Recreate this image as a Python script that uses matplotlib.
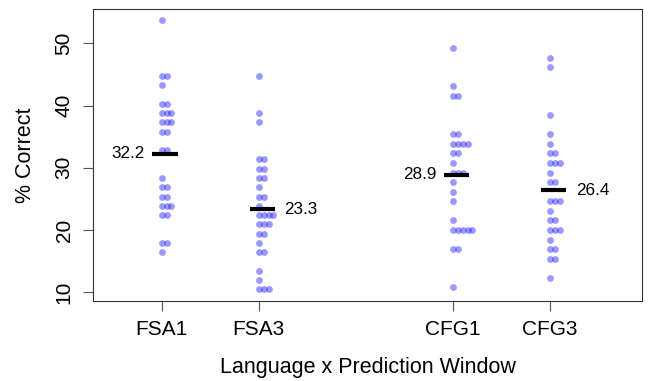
import numpy as np
import matplotlib
matplotlib.use("Agg")
import matplotlib.pyplot as plt

plt.rcParams['font.family'] = ['Liberation Sans', 'DejaVu Sans']

# % correct per participant
fsa1 = [53.73, 44.78, 44.78, 43.28, 40.30, 40.30, 38.81, 38.81, 38.81,
        37.31, 37.31, 37.31, 35.82, 35.82, 32.84, 32.84, 28.36, 26.87, 26.87,
        25.37, 25.37, 23.88, 23.88, 23.88, 22.39, 22.39, 17.91, 17.91, 16.42]
fsa3 = [44.78, 38.81, 37.31, 31.34, 31.34, 29.85, 29.85, 28.36, 28.36,
        26.87, 25.37, 25.37, 23.88, 22.39, 22.39, 22.39, 22.39, 20.90, 20.90,
        20.90, 19.40, 19.40, 17.91, 16.42, 16.42, 13.43, 11.94, 10.45, 10.45,
        10.45]
cfg1 = [49.23, 43.08, 41.54, 41.54, 35.38, 35.38, 33.85, 33.85, 33.85,
        33.85, 32.31, 32.31, 30.77, 29.23, 29.23, 29.23, 27.69, 26.15, 24.62,
        21.54, 20.00, 20.00, 20.00, 20.00, 20.00, 16.92, 16.92, 10.77]
cfg3 = [47.69, 46.15, 38.46, 35.38, 33.85, 32.31, 32.31, 30.77, 30.77,
        30.77, 29.23, 27.69, 27.69, 24.62, 24.62, 24.62, 23.08, 21.54, 21.54,
        20.00, 20.00, 20.00, 18.46, 16.92, 16.92, 15.38, 15.38, 12.31]

groups = ["FSA1", "FSA3", "CFG1", "CFG3"]
series = [fsa1, fsa3, cfg1, cfg3]
at = [1, 2, 4, 5]
label_side = ["left", "right", "left", "right"]

fig = plt.figure(figsize=(6.48, 3.81), dpi=100)
ax = fig.add_axes([0.1435, 0.2100, 0.8472, 0.7656])

step = 0.05  # horizontal stacking offset for equal values
for pos, vals, side in zip(at, series, label_side):
    vals = np.array(vals)
    xs = np.empty(len(vals))
    seen = {}
    for i, v in enumerate(vals):
        k = seen.get(v, 0)
        xs[i] = pos + k * step
        seen[v] = k + 1
    ax.scatter(xs, vals, s=24, color='blue', alpha=0.4, linewidths=0, zorder=2)
    m = vals.mean()
    x0, x1 = pos - 0.095, pos + 0.165
    ax.plot([x0, x1], [m, m], color='black', lw=3, solid_capstyle='butt', zorder=3)
    if side == "left":
        ax.text(x0 - 0.08, m, f"{m:.1f}", ha='right', va='center', fontsize=12.3)
    else:
        ax.text(x1 + 0.1, m, f"{m:.1f}", ha='left', va='center', fontsize=12.3)

ax.set_xlim(0.2925, 5.946)
ax.set_ylim(8.6, 55.46)
ax.set_xticks(at)
ax.set_xticklabels(groups)
ax.set_yticks([10, 20, 30, 40, 50])
ax.tick_params(axis='both', labelsize=15, length=7, width=0.8,
               color='#555555', labelcolor='black')
ax.tick_params(axis='x', pad=7)
ax.tick_params(axis='y', pad=7)
for lab in ax.get_yticklabels():
    lab.set_rotation(90)
    lab.set_va('center')
for sp in ax.spines.values():
    sp.set_linewidth(0.8)
    sp.set_color('#333333')

ax.set_xlabel("Language x Prediction Window", fontsize=15.5, labelpad=13)
ax.set_ylabel("% Correct", fontsize=15.5, labelpad=13)

fig.savefig('out.png', dpi=100)
